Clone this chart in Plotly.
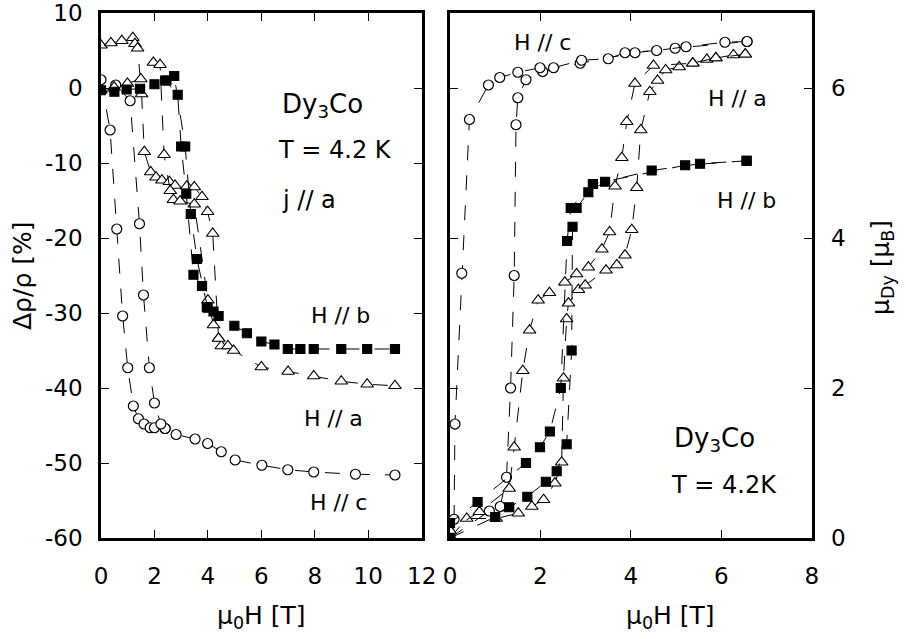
import plotly.graph_objects as go

W, H = 906, 639

# ---------------- Left panel: magnetoresistance ----------------
# H // c (circles)
lc1_x = [0, 0.34, 0.59, 0.81, 1.0, 1.21, 1.4, 1.61, 1.84, 2.0, 2.4, 2.81, 3.52, 3.99, 4.5, 5.02, 6.02, 6.99, 7.96, 9.52, 11.0]
lc1_y = [1.1, -5.6, -18.8, -30.4, -37.3, -42.4, -44.1, -44.8, -45.3, -45.3, -45.4, -46.2, -46.8, -47.4, -48.5, -49.6, -50.3, -50.9, -51.2, -51.5, -51.6]
lc2_x = [2.4, 2.24, 2.0, 1.81, 1.59, 1.44, 1.09, 0.55]
lc2_y = [-45.4, -44.8, -42.0, -37.3, -27.6, -18.1, -1.7, 0.4]
# H // b (filled squares)
ls1_x = [0, 0.5, 0.96, 1.46, 2.0, 2.4, 2.87, 3.0, 3.19, 3.46, 3.78, 3.96, 4.21, 4.4, 4.99, 5.46, 6.0, 6.49, 6.99, 7.46, 7.96, 8.99, 9.96, 11.0]
ls1_y = [-0.3, -0.5, -0.2, -0.1, 0.5, 1.0, -0.9, -7.8, -14.1, -24.9, -26.4, -29.2, -29.8, -30.4, -31.7, -32.7, -33.8, -34.2, -34.8, -34.8, -34.8, -34.8, -34.8, -34.8]
ls2_x = [3.99, 3.59, 3.36, 3.15, 2.74, 2.45]
ls2_y = [-29.3, -22.8, -16.8, -7.8, 1.6, 1.0]
# H // a (open triangles)
lt1_x = [0, 0.37, 0.78, 1.19, 1.27, 1.37, 1.52, 1.62, 1.86, 2.06, 2.28, 2.56, 2.77, 3.21, 3.49, 3.78, 3.99, 4.18, 4.4, 4.5, 4.75, 4.96, 6.0, 7.0, 7.96, 8.99, 9.96, 11.0]
lt1_y = [5.7, 6.0, 6.3, 6.7, 5.9, 5.3, -0.8, -8.5, -11.2, -11.9, -12.3, -12.5, -13.0, -13.1, -13.2, -14.5, -16.5, -19.4, -33.4, -34.4, -34.4, -35.0, -37.2, -37.8, -38.4, -39.1, -39.5, -39.7]
lt2_x = [0, 0.49, 0.99, 1.49, 1.96, 2.21, 2.36, 2.59, 2.71, 2.96, 3.49, 4.0, 4.21, 4.4]
lt2_y = [-0.3, 0.1, 0.6, 1.2, 3.4, 3.1, -8.9, -13.7, -14.9, -15.1, -15.5, -28.3, -31.6, -33.4]

# ---------------- Right panel: magnetization ----------------
rc1_x = [0, 0.87, 1.11, 1.25, 1.34, 1.42, 1.46, 1.5, 1.68, 2.05, 2.88, 4.09, 4.98, 6.57]
rc1_y = [0, 0.36, 0.42, 0.81, 2.0, 3.5, 5.51, 5.87, 6.11, 6.22, 6.33, 6.47, 6.53, 6.62]
rc2_x = [6.57, 6.08, 5.22, 4.57, 3.87, 3.5, 2.91, 2.29, 1.99, 1.5, 1.1, 0.85, 0.43, 0.26, 0.11, 0.09, 0]
rc2_y = [6.62, 6.61, 6.55, 6.5, 6.47, 6.39, 6.37, 6.27, 6.27, 6.21, 6.14, 6.04, 5.58, 3.53, 1.52, 0.25, 0]
rt1_x = [0, 0.37, 1.02, 1.51, 1.81, 2.07, 2.32, 2.47, 2.51, 2.58, 2.62, 2.84, 2.99, 3.45, 3.69, 3.87, 4.02, 4.13, 4.22, 4.42, 4.59, 4.77, 5.07, 5.37, 5.68, 5.88, 6.27, 6.53]
rt1_y = [0, 0.26, 0.26, 0.33, 0.42, 0.51, 0.73, 1.01, 2.13, 2.92, 3.13, 3.31, 3.37, 3.57, 3.64, 3.77, 4.11, 4.67, 5.44, 5.95, 6.1, 6.24, 6.28, 6.33, 6.38, 6.4, 6.44, 6.45]
rt2_x = [6.53, 5.88, 5.37, 4.5, 4.09, 3.91, 3.8, 3.65, 3.53, 3.36, 3.06, 2.8, 2.54, 2.2, 1.95, 1.76, 1.61, 1.42, 1.31, 0.65, 0]
rt2_y = [6.45, 6.4, 6.33, 6.3, 6.06, 5.55, 5.07, 4.69, 4.08, 3.85, 3.61, 3.52, 3.41, 3.27, 3.17, 2.77, 2.23, 1.21, 0.66, 0.35, 0.1]
rs1_x = [0, 1.0, 1.31, 1.71, 2.12, 2.36, 2.58, 2.69, 2.71, 2.8, 3.06, 3.43, 4.46, 5.53, 6.56]
rs1_y = [0, 0.28, 0.41, 0.55, 0.75, 0.89, 1.25, 2.5, 4.15, 4.4, 4.61, 4.75, 4.9, 4.99, 5.03]
rs2_x = [6.56, 5.2, 3.16, 2.67, 2.59, 2.45, 2.21, 1.99, 1.68, 0.61, 0]
rs2_y = [5.03, 4.97, 4.72, 4.4, 3.96, 2.0, 1.42, 1.21, 1.0, 0.48, 0.2]

left_xticks = [0, 2, 4, 6, 8, 10, 12]
left_yticks = [-60, -50, -40, -30, -20, -10, 0, 10]
left_yticktext = ["-60", "-50", "-40", "-30", "-20", "-10", "0", "10"]
right_xticks = [0, 2, 4, 6, 8]
right_yticks = [0, 2, 4, 6]

FONT = "DejaVu Sans, Liberation Sans, Arial, sans-serif"
LINE = dict(color="black", width=1, dash="longdash")

def px(x):
    return x / W

def py(y):
    return 1 - y / H

fig = go.Figure()

def add(x, y, sym, xa, ya, filled=False, size=10):
    fig.add_trace(go.Scatter(
        x=x, y=y, mode="lines+markers", xaxis=xa, yaxis=ya,
        line=LINE,
        marker=dict(symbol=sym, size=size,
                    color="black" if filled else "white",
                    line=dict(color="black", width=1.2)),
        showlegend=False, hoverinfo="skip"))

# left
add(lc1_x, lc1_y, "circle", "x", "y")
add(lc2_x, lc2_y, "circle", "x", "y")
add(lt1_x, lt1_y, "triangle-up", "x", "y", size=11)
add(lt2_x, lt2_y, "triangle-up", "x", "y", size=11)
add(ls1_x, ls1_y, "square", "x", "y", filled=True, size=9)
add(ls2_x, ls2_y, "square", "x", "y", filled=True, size=9)
# right
add(rc1_x, rc1_y, "circle", "x2", "y2")
add(rc2_x, rc2_y, "circle", "x2", "y2")
add(rt1_x, rt1_y, "triangle-up", "x2", "y2", size=11)
add(rt2_x, rt2_y, "triangle-up", "x2", "y2", size=11)
add(rs1_x, rs1_y, "square", "x2", "y2", filled=True, size=9)
add(rs2_x, rs2_y, "square", "x2", "y2", filled=True, size=9)

axis_common = dict(
    showgrid=False, zeroline=False, showline=True, linecolor="black", linewidth=2.5,
    mirror="ticks", ticks="inside", ticklen=8, tickwidth=1.2, tickcolor="black",
    tickfont=dict(family=FONT, size=23, color="black"),
    ticklabeloverflow="allow", automargin=False,
)

ydom = [py(538), py(13)]

fig.update_layout(
    template="none",
    width=W, height=H, margin=dict(l=0, r=0, t=0, b=0, pad=0, autoexpand=False),
    paper_bgcolor="white", plot_bgcolor="white",
    xaxis=dict(domain=[px(101), px(421.7)], range=[0, 12], tickvals=left_xticks,
               anchor="y", ticklabelstandoff=16, **axis_common),
    yaxis=dict(domain=ydom, range=[-60, 10], tickvals=left_yticks, ticktext=left_yticktext,
               anchor="x", ticklabelstandoff=11, **axis_common),
    xaxis2=dict(domain=[px(450), px(811.7)], range=[0, 8], tickvals=right_xticks,
                anchor="y2", ticklabelstandoff=16, **axis_common),
    yaxis2=dict(domain=ydom, range=[0, 7], tickvals=right_yticks, side="right",
                anchor="x2", ticklabelstandoff=12, **axis_common),
)

def note(x, y, text, size=24, angle=0):
    fig.add_annotation(x=px(x), y=py(y), xref="paper", yref="paper", text=text,
                       showarrow=False, textangle=angle,
                       font=dict(family=FONT, size=size, color="black"),
                       xanchor="center", yanchor="middle")

# axis titles
note(261, 617, "μ<sub>0</sub>H [T]", size=25)
note(670, 617, "μ<sub>0</sub>H [T]", size=25)
note(22, 276, "Δρ/ρ [%]", size=25, angle=-90)
note(882, 268, "μ<sub>Dy</sub> [μ<sub>B</sub>]", size=25, angle=-90)

# left panel labels
note(322, 106, "Dy<sub>3</sub>Co", size=26)
note(335, 150, "T = 4.2 K", size=24)
note(309, 200, "j // a", size=24)
note(340, 315, "H // b", size=22)
note(333, 418, "H // a", size=22)
note(338, 502, "H // c", size=22)

# right panel labels
note(542, 42, "H // c", size=22)
note(737, 98, "H // a", size=22)
note(746, 200, "H // b", size=22)
note(714, 440, "Dy<sub>3</sub>Co", size=26)
note(724, 485, "T = 4.2K", size=24)

fig.write_html("out.html")
